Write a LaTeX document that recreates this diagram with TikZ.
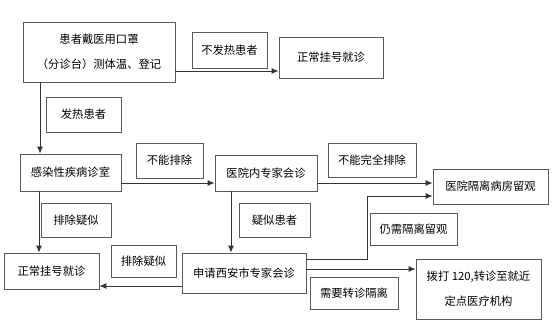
\documentclass[tikz,border=0pt]{standalone}
\usepackage{fontspec}
\setmainfont{Noto Sans CJK SC}
\usepackage{tikz}
\usetikzlibrary{arrows.meta, calc}

\begin{document}
\begin{tikzpicture}[x=1pt, y=-1pt,
  every node/.style={font=\fontsize{11.3}{25}\selectfont, inner sep=0pt},
  stepbox/.style={draw=black!65, line width=0.8pt, align=center},
  tagbox/.style={draw=black!65, line width=0.8pt},
  flow/.style={-{Latex[length=7pt,width=6pt]}, line width=0.9pt, black!80}]
\useasboundingbox (0,0) rectangle (555,334);
% boxes
\node[stepbox, minimum width=152pt, minimum height=60pt] (entry) at (99,52) {患者戴医用口罩\\（分诊台）测体温、登记};
\node[stepbox, minimum width=104pt, minimum height=41pt] (normalA) at (331,57.5) {正常挂号就诊};
\node[stepbox, minimum width=101pt, minimum height=37pt] (clinic) at (70.5,172.5) {感染性疾病诊室};
\node[stepbox, minimum width=102pt, minimum height=36pt] (expert) at (266,173) {医院内专家会诊};
\node[stepbox, minimum width=115pt, minimum height=35pt] (ward) at (490.5,186.5) {医院隔离病房留观};
\node[stepbox, minimum width=124pt, minimum height=40pt] (xian) at (244,273) {申请西安市专家会诊};
\node[stepbox, minimum width=95pt, minimum height=36pt] (normalB) at (51.5,271) {正常挂号就诊};
\node[stepbox, minimum width=125pt, minimum height=60pt] (transfer) at (478.5,289) {拨打 120,转诊至就近\\定点医疗机构};
% labels
\node[tagbox, minimum width=75pt, minimum height=36pt] (noFever) at (229.5,50) {不发热患者};
\node[tagbox, minimum width=75pt, minimum height=35pt] (fever) at (83.5,114.5) {发热患者};
\node[tagbox, minimum width=67pt, minimum height=35pt] (notExcl) at (169.5,160.5) {不能排除};
\node[tagbox, minimum width=88pt, minimum height=34pt] (notFully) at (372,160) {不能完全排除};
\node[tagbox, minimum width=71pt, minimum height=34pt] (suspect) at (274.5,220) {疑似患者};
\node[tagbox, minimum width=70pt, minimum height=34pt] (exclA) at (76,220) {排除疑似};
\node[tagbox, minimum width=65pt, minimum height=32pt] (exclB) at (143.5,261) {排除疑似};
\node[tagbox, minimum width=87pt, minimum height=32pt] (still) at (413.5,229) {仍需隔离留观};
\node[tagbox, minimum width=88pt, minimum height=32pt] (need) at (354,293) {需要转诊隔离};
% arrows
\draw[flow] ([yshift=-19pt]entry.east) -- ([yshift=-19pt]entry.east -| normalA.west);
\draw[flow] ([xshift=-59pt]entry.south) -- ([xshift=-59pt]entry.south |- clinic.north);
\draw[flow] ([yshift=-10.5pt]clinic.east) -- ([yshift=-10.5pt]clinic.east -| expert.west);
\draw[flow] ([yshift=-10pt]expert.east) -- ([yshift=-10pt]expert.east -| ward.west);
\draw[flow] ([xshift=-31.5pt]clinic.south) -- ([xshift=-31.5pt]clinic.south |- normalB.north);
\draw[flow] ([xshift=-35pt]expert.south) -- ([xshift=-35pt]expert.south |- xian.north);
\draw[flow] ([yshift=-13pt]xian.west) -- ([yshift=-13pt]xian.west -| normalB.east);
\draw[flow] ([yshift=14pt]xian.east) -- ++(61,0) |- ([yshift=-9.5pt]ward.west);
\draw[flow] ([yshift=4pt]xian.east) -- ([yshift=4pt]xian.east -| transfer.west);
\end{tikzpicture}
\end{document}
